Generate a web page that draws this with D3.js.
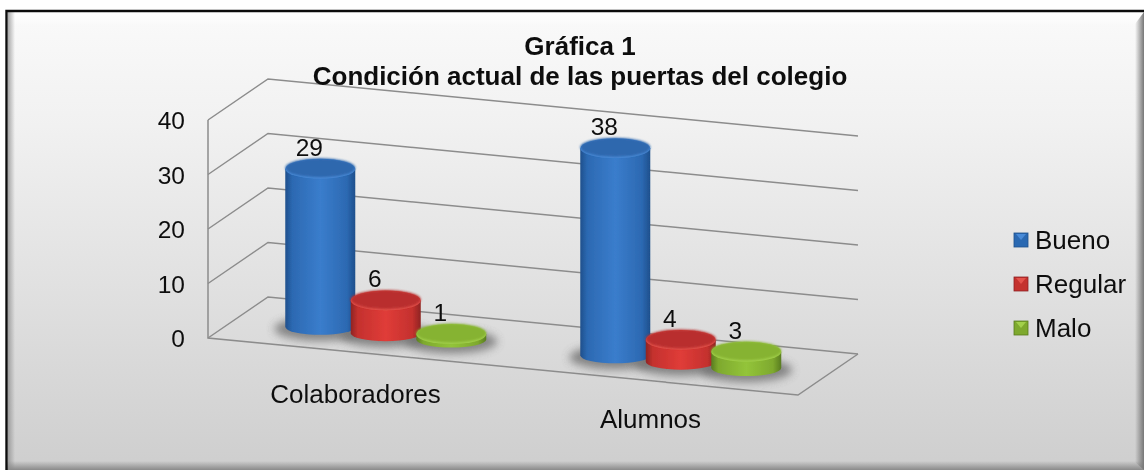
<!DOCTYPE html>
<html>
<head>
<meta charset="utf-8">
<script src="https://cdnjs.cloudflare.com/ajax/libs/d3/7.8.5/d3.min.js"></script>
<style>
  html, body { margin: 0; padding: 0; background: #fff; }
  text { font-family: "Liberation Sans", Arial, sans-serif; fill: #111; }
</style>
</head>
<body>
<div id="graf"></div>
<script>
// Datos
const categorias = ['Colaboradores', 'Alumnos']
const series = ['Bueno', 'Regular', 'Malo']
const bueno = [29, 38]
const regular = [6, 4]
const malo = [1, 3]
const valores = [bueno, regular, malo]
const ticksY = [0, 10, 20, 30, 40]
const titulo = ['Gráfica 1', 'Condición actual de las puertas del colegio']

const ancho_total = 1144
const alto_total = 470

// Colores de cada serie
const colores = [
  { luz: '#3a7dcc', medio: '#2c69b2', oscuro: '#1e4f8c', tapa: '#2d68ae', rim: '#4a8bd8' },
  { luz: '#e03c38', medio: '#c4312e', oscuro: '#8e2423', tapa: '#b92f2d', rim: '#e4524c' },
  { luz: '#93c43a', medio: '#7ea92e', oscuro: '#597c20', tapa: '#86b332', rim: '#a2d04c' }
]

const svg = d3.select('#graf').append('svg')
  .attr('width', ancho_total)
  .attr('height', alto_total)
  .style('display', 'block')

const defs = svg.append('defs')

function gradiente(id, x2, y2, stops) {
  const gr = defs.append('linearGradient').attr('id', id)
    .attr('x1', 0).attr('y1', 0).attr('x2', x2).attr('y2', y2)
  stops.forEach(s => {
    gr.append('stop')
      .attr('offset', s[0])
      .attr('stop-color', s[1])
      .attr('stop-opacity', s[2] === undefined ? 1 : s[2])
  })
}

gradiente('fondo', 0, 1, [['0%', '#fafafa'], ['25%', '#f1f1f1'], ['100%', '#cecece']])
gradiente('bordeDer', 1, 0, [['0%', '#777', 0], ['100%', '#777', 1]])
gradiente('bordeInf', 0, 1, [['0%', '#8a8a8a', 0], ['100%', '#8a8a8a', 1]])
gradiente('bordeIzq', 1, 0, [['0%', '#888', 0.7], ['100%', '#888', 0]])
gradiente('bordeSup', 0, 1, [['0%', '#fff', 1], ['100%', '#fff', 0]])

defs.append('filter').attr('id', 'suave')
  .append('feGaussianBlur').attr('stdDeviation', 0.5)
defs.append('filter').attr('id', 'tapaBlur')
  .append('feGaussianBlur').attr('stdDeviation', 1.2)
defs.append('filter').attr('id', 'sombra')
  .attr('x', '-30%').attr('y', '-60%').attr('width', '160%').attr('height', '220%')
  .append('feGaussianBlur').attr('stdDeviation', 4)

colores.forEach((c, i) => {
  gradiente('cuerpo' + i, 1, 0, [
    ['0%', c.oscuro], ['10%', c.medio], ['50%', c.luz], ['88%', c.medio], ['100%', c.oscuro]
  ])
})

// Panel con fondo degradado y bisel
svg.append('rect')
  .attr('x', 7).attr('y', 11).attr('width', 1137).attr('height', 459)
  .attr('fill', 'url(#fondo)')
svg.append('rect')
  .attr('x', 8).attr('y', 12).attr('width', 1136).attr('height', 14)
  .attr('fill', 'url(#bordeSup)')
svg.append('rect')
  .attr('x', 8).attr('y', 12).attr('width', 7).attr('height', 458)
  .attr('fill', 'url(#bordeIzq)')
svg.append('rect')
  .attr('x', 7).attr('y', 461).attr('width', 1137).attr('height', 9)
  .attr('fill', 'url(#bordeInf)')
svg.append('path')
  .attr('d', 'M1144,12L1144,470L1135,462L1135,24Z')
  .attr('fill', 'url(#bordeDer)')
svg.append('path')
  .attr('d', 'M6.5,470L6.5,11L1144,11')
  .attr('fill', 'none')
  .attr('stroke', '#0c0c0c')
  .attr('stroke-width', 2.4)

// Escaladores
const u = d3.scaleBand().domain(categorias).range([0, 1])
const uSerie = d3.scaleBand().domain(series).range([0.087, 0.42])
const y = d3.scaleLinear().domain([0, 40]).range([0, 218])

// Proyeccion del piso: u a lo ancho, v hacia el fondo, h en altura
const piso = { x0: 208, y0: 338, ux: 590, uy: 57, vx: 60, vy: -41 }
const px = (a, b) => piso.x0 + a * piso.ux + b * piso.vx
const py = (a, b, h) => piso.y0 + a * piso.uy + b * piso.vy - y(h)

const linea = d3.line()

const g = svg.append('g').attr('filter', 'url(#suave)')

// Grilla: pared lateral y pared del fondo
const rejilla = g.append('g')
  .attr('fill', 'none')
  .attr('stroke', '#8c8c8c')
  .attr('stroke-width', 1.5)

rejilla.selectAll('path.grid')
  .data(ticksY)
  .join('path')
  .attr('class', 'grid')
  .attr('d', d => linea([
    [px(0, 0), py(0, 0, d)],
    [px(0, 1), py(0, 1, d)],
    [px(1, 1), py(1, 1, d)]
  ]))

rejilla.append('path')
  .attr('d', linea([
    [px(0, 0), py(0, 0, 40)],
    [px(0, 0), py(0, 0, 0)],
    [px(1, 0), py(1, 0, 0)],
    [px(1, 1), py(1, 1, 0)]
  ]))

// Etiquetas del eje Y
g.selectAll('text.tick')
  .data(ticksY)
  .join('text')
  .attr('class', 'tick')
  .attr('x', px(0, 0) - 23)
  .attr('y', d => py(0, 0, d) + 9)
  .attr('text-anchor', 'end')
  .attr('font-size', 24.5)
  .text(d => d)

// Categorias
const bajadaCat = [51, 47]
g.selectAll('text.cat')
  .data(categorias)
  .join('text')
  .attr('class', 'cat')
  .attr('x', d => px(u(d) + 0.25, 0))
  .attr('y', (d, i) => py(u(d) + 0.25, 0, 0) + bajadaCat[i])
  .attr('text-anchor', 'middle')
  .attr('font-size', 26)
  .text(d => d)

// Cilindros
const filas = []
categorias.forEach((c, ic) => {
  series.forEach((s, is) => {
    filas.push({ c, s, is, v: valores[is][ic] })
  })
})
const prof = 0.47
const rx = 35
const ryTapa = 10
const ryBase = 8

filas.forEach(d => {
  d.a = u(d.c) + uSerie(d.s) + uSerie.bandwidth() / 2
  d.cx = px(d.a, prof)
  d.base = py(d.a, prof, 0)
  d.tope = py(d.a, prof, d.v)
})

g.append('g').selectAll('ellipse')
  .data(filas)
  .join('ellipse')
  .attr('cx', d => d.cx)
  .attr('cy', d => d.base + 2)
  .attr('rx', rx + 11)
  .attr('ry', ryBase + 4)
  .attr('fill', '#6e6e6e')
  .attr('opacity', 0.8)
  .attr('filter', 'url(#sombra)')

const cil = g.selectAll('g.cil')
  .data(filas)
  .join('g')
  .attr('class', 'cil')

cil.append('path')
  .attr('fill', d => `url(#cuerpo${d.is})`)
  .attr('d', d => `M${d.cx - rx},${d.tope}` +
    `L${d.cx - rx},${d.base}` +
    `A${rx},${ryBase} 0 0 0 ${d.cx + rx},${d.base}` +
    `L${d.cx + rx},${d.tope}Z`)

// Tapa: un borde claro abajo y encima el color mas oscuro
cil.append('ellipse')
  .attr('cx', d => d.cx)
  .attr('cy', d => d.tope)
  .attr('rx', rx)
  .attr('ry', ryTapa)
  .attr('fill', d => colores[d.is].rim)
cil.append('ellipse')
  .attr('cx', d => d.cx)
  .attr('cy', d => d.tope - 1)
  .attr('rx', rx)
  .attr('ry', ryTapa - 0.5)
  .attr('fill', d => colores[d.is].tapa)
  .attr('filter', 'url(#tapaBlur)')

// Etiquetas de valor
g.selectAll('text.valor')
  .data(filas)
  .join('text')
  .attr('class', 'valor')
  .attr('x', d => d.cx - 11)
  .attr('y', d => d.tope - 13)
  .attr('text-anchor', 'middle')
  .attr('font-size', 24.5)
  .text(d => d.v)

// Titulo
g.selectAll('text.titulo')
  .data(titulo)
  .join('text')
  .attr('class', 'titulo')
  .attr('x', 580)
  .attr('y', (d, i) => 55 + i * 30)
  .attr('text-anchor', 'middle')
  .attr('font-size', 26)
  .attr('font-weight', 'bold')
  .text(d => d)

// Leyenda
const leyenda = g.selectAll('g.ley')
  .data(series)
  .join('g')
  .attr('class', 'ley')
  .attr('transform', (d, i) => `translate(1014, ${240 + i * 44})`)

leyenda.append('rect')
  .attr('y', -7)
  .attr('width', 14)
  .attr('height', 14)
  .attr('fill', (d, i) => colores[i].medio)
  .attr('stroke', (d, i) => colores[i].oscuro)
  .attr('stroke-width', 0.8)

leyenda.append('path')
  .attr('d', 'M2,-6L12,-6L7,0Z')
  .attr('fill', (d, i) => colores[i].rim)

leyenda.append('text')
  .attr('x', 21)
  .attr('y', 9)
  .attr('font-size', 26)
  .text(d => d)
</script>
</body>
</html>
